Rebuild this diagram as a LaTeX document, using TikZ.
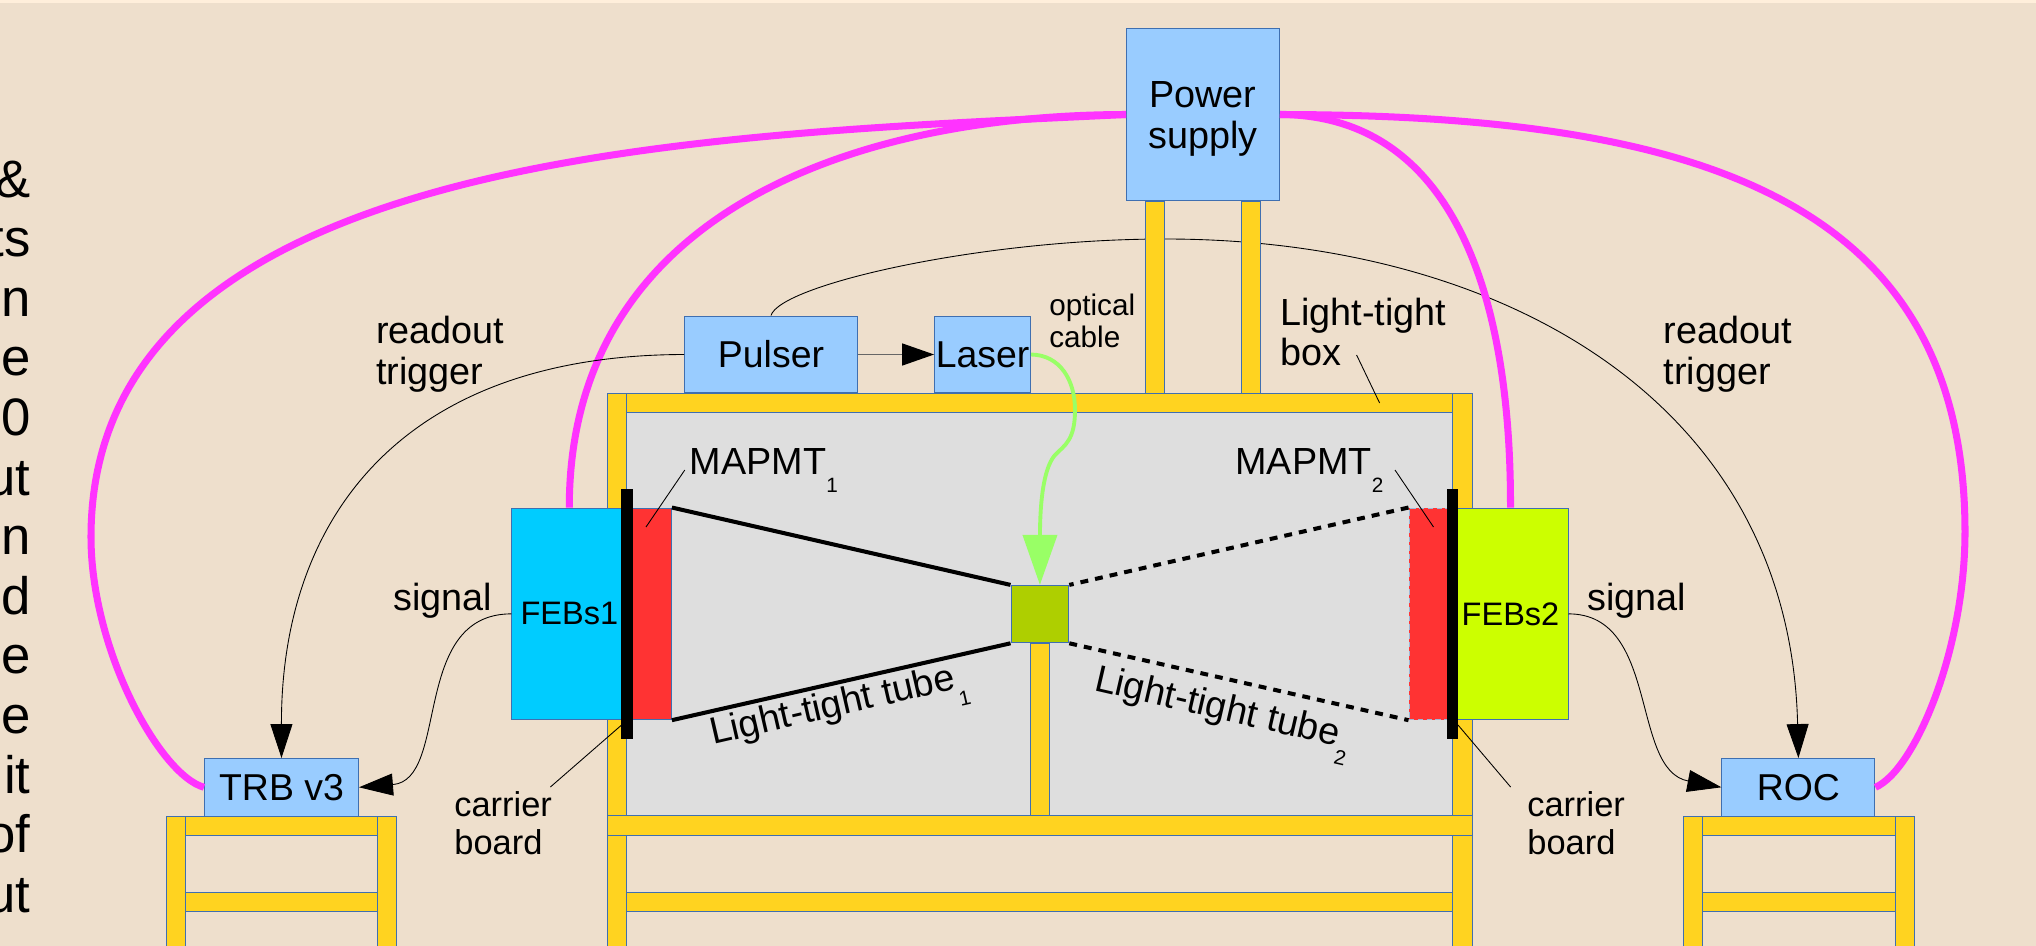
\documentclass[tikz,border=0pt]{standalone}
\usepackage{fontspec}
\setmainfont{Liberation Sans}
\usepackage{xcolor}
\usetikzlibrary{arrows.meta, positioning, calc}
\definecolor{paper}{HTML}{EEDFCC}
\definecolor{paperlight}{HTML}{FFEFDB}
\definecolor{edge}{HTML}{3F6FB0}
\definecolor{skyfill}{HTML}{99CCFF}
\definecolor{barfill}{HTML}{FFD320}
\definecolor{powerline}{HTML}{FF33FF}
\definecolor{fibre}{HTML}{99FF66}
\newcommand{\lowidx}[1]{\raisebox{-0.47em}{\fontsize{11.8pt}{11.8pt}\selectfont #1}}

\begin{document}
\begin{tikzpicture}[
    x=0.02cm, y=-0.02cm,
    box/.style={rectangle, draw=edge, line width=0.57pt, fill=skyfill, inner sep=0pt, align=center, font=\fontsize{21.3pt}{23.3pt}\selectfont},
    feb/.style={box, minimum width=2.3cm, minimum height=4.234cm, font=\fontsize{18.5pt}{20pt}\selectfont},
    bar/.style={draw=edge, line width=0.57pt, fill=barfill},
    label/.style={inner sep=0pt, align=left, font=\fontsize{21.5pt}{23.3pt}\selectfont},
    small/.style={label, font=\fontsize{19.6pt}{21.6pt}\selectfont},
    wire/.style={black, line width=0.5pt},
    sigarrow/.style={wire, -{Triangle[length=0.68cm, width=0.44cm]}},
    leader/.style={black, line width=0.5pt},
    supply/.style={powerline, line width=4pt},
    tube/.style={black, line width=2.3pt}
]
\useasboundingbox (0,0) rectangle (2036,946);
\fill[paper] (0,0) rectangle (2036,946);
\fill[paperlight] (0,0) rectangle (2036,3);

% text cut off at the left edge
\foreach \txt [count=\i from 0] in {\&,ts,n,e,0,ut,n,d,e,e,it,of,ut}
    \node[anchor=base east, inner sep=0pt, font=\fontsize{30pt}{30pt}\selectfont] (frag\i) at (31,197+59.6*\i) {\txt};

\node[box, minimum width=3.06cm, minimum height=3.46cm] (power) at (1203,114.5) {};
\node[box, minimum width=3.46cm, minimum height=1.54cm] (pulser) at (771,354.5) {Pulser};
\node[box, minimum width=1.92cm, minimum height=1.54cm] (laser) at (982.6,354.5) {Laser};
\node[box, minimum width=3.08cm, minimum height=1.15cm] (trb) at (281.5,787.3) {TRB v3};
\node[box, minimum width=3.06cm, minimum height=1.15cm] (roc) at (1798.4,787.3) {ROC};
\node[label, align=center] (powerlabel) at (1203,119) {Power\\supply};

% trigger line runs behind the posts
\draw[sigarrow] (pulser.north) .. controls (780,285) and (980,239) .. (1165,239)
    .. controls (1500,239) and (1790,400) .. (roc.north);

\draw[bar, fill=black!13] (626.7,412.5) rectangle (1452.5,815.8);
\foreach \xa/\ya/\xb/\yb in {
    1145.4/201/1164/393, 1241/201/1260.7/393,
    626.7/393.4/1452.5/412.5,
    607.7/393.4/626.7/946, 1452.5/393.4/1472/946,
    1030.4/643/1049.8/815.8,
    607.7/815.8/1472/835, 626.7/892.6/1452.5/911.4,
    185.3/816/377.2/835, 166.5/816/185.3/946, 377.2/816/396.4/946, 185.3/892.6/377.2/911.4,
    1702/816/1895/835, 1683/816/1702/946, 1895/816/1914/946, 1702/892.6/1895/911.4}
    \draw[bar] (\xa,\ya) rectangle (\xb,\yb);

\node[feb, fill={rgb,255:red,0;green,204;blue,255}] (febA) at (569.3,613.85) {FEBs1};
\node[feb, fill={rgb,255:red,204;green,255;blue,0}] (febB) at (1510.5,613.85) {FEBs2};
\node[rectangle, draw=edge, line width=0.57pt, fill={rgb,255:red,255;green,51;blue,51}, minimum width=0.776cm, minimum height=4.234cm] (mapmtA) at (652,613.85) {};
\node[rectangle, draw=edge!50, densely dashed, line width=0.57pt, fill={rgb,255:red,255;green,51;blue,51}, minimum width=0.76cm, minimum height=4.234cm] (mapmtB) at (1428,613.85) {};
\node[rectangle, fill=black, minimum width=0.22cm, minimum height=4.996cm] (boardA) at (627.1,614.3) {};
\node[rectangle, fill=black, minimum width=0.22cm, minimum height=4.996cm] (boardB) at (1452.5,614.3) {};
\node[rectangle, draw=edge, line width=0.57pt, fill={rgb,255:red,174;green,207;blue,0}, minimum width=1.156cm, minimum height=1.148cm] (lens) at (1039.9,614.1) {};

\draw[tube] (mapmtA.north east) -- (lens.north west);
\draw[tube] (mapmtA.south east) -- (lens.south west);
\draw[tube, dash pattern=on 4.5pt off 4pt] (mapmtB.north west) -- (lens.north east);
\draw[tube, dash pattern=on 4.5pt off 4pt] (lens.south east) -- (mapmtB.south west);

% power lines
\draw[supply] (power.west) .. controls (700,135) and (91,150) .. (91,537) .. controls (91,650) and (160,775) .. (trb.west);
\draw[supply] (power.west) .. controls (850,115) and (569,215) .. (febA.north);
\draw[supply] (power.east) .. controls (1440,115) and (1511,270) .. (febB.north);
\draw[supply] (power.east) .. controls (1700,115) and (1965,200) .. (1965,532) .. controls (1965,650) and (1915,770) .. (roc.east);

\draw[sigarrow] (pulser.west) .. controls (400,355) and (281,520) .. (trb.north);
\draw[sigarrow, black!60, line width=0.8pt, -{Triangle[length=0.64cm, width=0.44cm, black]}] (pulser.east) -- (laser.west);
\draw[sigarrow] (febA.west) .. controls (410,614) and (450,780) .. (trb.east);
\draw[sigarrow] (febB.east) .. controls (1660,614) and (1630,770) .. (roc.west);
\draw[fibre, line width=2.2pt, -{Triangle[length=1cm, width=0.68cm]}] (laser.east) .. controls (1060,355) and (1075,380) .. (1075,410)
    .. controls (1075,440) and (1065,445) .. (1055,455) .. controls (1042,470) and (1040,510) .. (lens.north);

% labels
\node[label, anchor=west] (readoutA) at (376,354) {readout\\trigger};
\node[label, anchor=west] (readoutB) at (1663.5,354) {readout\\trigger};
\node[label, anchor=base west] (signalA) at (393,610.5) {signal};
\node[label, anchor=base west] (signalB) at (1587,610.5) {signal};
\node[small, anchor=west] (carrierA) at (454,823) {carrier\\board};
\node[small, anchor=west] (carrierB) at (1527,823) {carrier\\board};
\node[label, anchor=west, font=\fontsize{16.9pt}{18.2pt}\selectfont] (optical) at (1049,321) {optical\\cable};
\node[label, anchor=west] (boxlabel) at (1280,332) {Light-tight\\box};
\node[label, anchor=base west] (mapmtlabelA) at (689.5,474.6) {MAPMT\lowidx{1}};
\node[label, anchor=base west] (mapmtlabelB) at (1235,474.6) {MAPMT\lowidx{2}};
\node[label, anchor=base west, rotate=13] (tubelabelA) at (713,745) {Light-tight tube\lowidx{1}};
\node[label, anchor=base west, rotate=-13] (tubelabelB) at (1093,690) {Light-tight tube\lowidx{2}};

% leader lines
\coordinate (leadA) at (684.8,470);
\coordinate (leadAend) at (646,527);
\coordinate (leadB) at (1395,470);
\coordinate (leadBend) at (1433.5,527);
\coordinate (leadC) at (1356.6,355);
\coordinate (leadCend) at (1379.6,403);
\coordinate (leadD) at (550.4,787);
\coordinate (leadDend) at (621.6,725);
\coordinate (leadE) at (1510.6,787);
\coordinate (leadEend) at (1458,725);
\foreach \a/\b in {leadA/leadAend, leadB/leadBend, leadC/leadCend, leadD/leadDend, leadE/leadEend}
    \draw[leader] (\a) -- (\b);
\end{tikzpicture}
\end{document}
